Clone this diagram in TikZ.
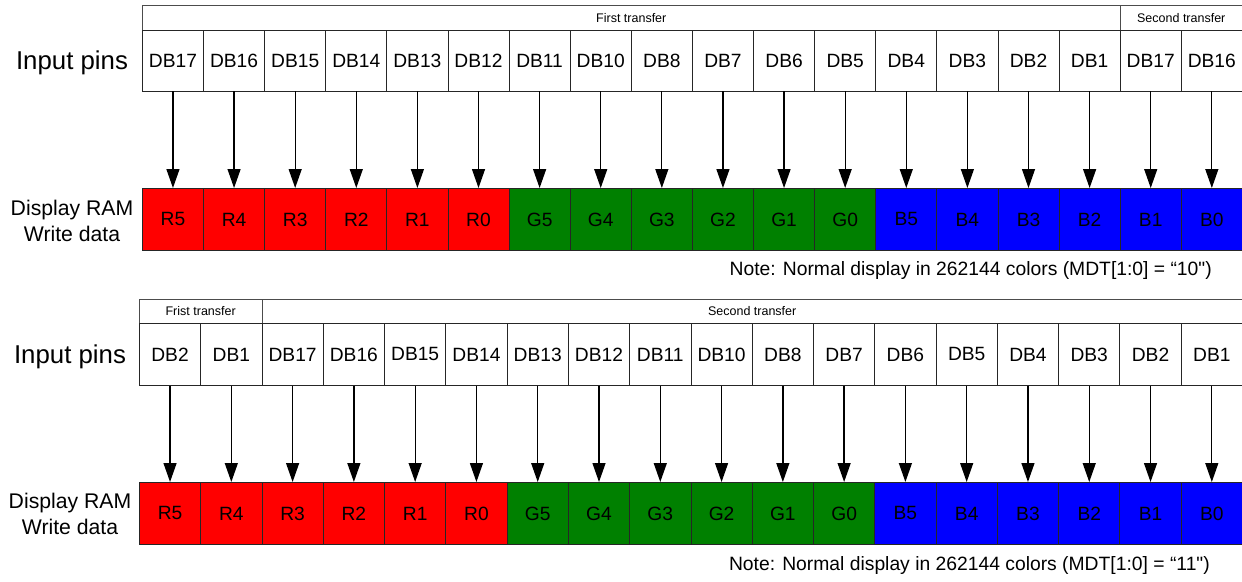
\documentclass[tikz,border=0pt]{standalone}
\usepackage{fontspec}
\setmainfont{Liberation Sans}
\usetikzlibrary{arrows.meta}
\definecolor{rr}{HTML}{FF0000}
\definecolor{gg}{HTML}{008000}
\definecolor{bb}{HTML}{0000FF}
\begin{document}
\begin{tikzpicture}[x=1pt,y=-1pt,
  cellbox/.style={draw=black!85, line width=0.8pt, inner sep=0pt, anchor=north west, font=\fontsize{19.2}{19.2}\selectfont},
  hdrbox/.style={draw=black!70, line width=0.8pt, inner sep=0pt, anchor=north west, font=\fontsize{12.5}{12.5}\selectfont},
  biglabel/.style={font=\fontsize{25.8}{25.8}\selectfont, inner sep=0pt},
  ramlabel/.style={font=\fontsize{21.2}{26}\selectfont, align=center, inner sep=0pt},
  notetext/.style={font=\fontsize{19.3}{19.3}\selectfont, anchor=east, inner sep=0pt},
  arr/.style={line width=1.3pt, -{Triangle[width=13pt,length=19pt]}}]
\useasboundingbox (0,0) rectangle (1242,581);

% ---------- top section ----------
\def\xa{142}\def\wa{61.11}
\node[hdrbox, minimum width=16*\wa pt, minimum height=25pt] (h1a) at (\xa,5) {First transfer};
\node[hdrbox, minimum width=2*\wa pt, minimum height=25pt] (h1b) at (\xa+16*\wa,5) {Second transfer};
\foreach \t [count=\i] in {DB17,DB16,DB15,DB14,DB13,DB12,DB11,DB10,DB8,DB7,DB6,DB5,DB4,DB3,DB2,DB1,DB17,DB16}{
  \node[cellbox, fill=white, minimum width=\wa pt, minimum height=60.5pt] (ta\i) at ({\xa+(\i-1)*\wa},30) {\t};
}
\foreach \t/\c [count=\i] in {R5/rr,R4/rr,R3/rr,R2/rr,R1/rr,R0/rr,G5/gg,G4/gg,G3/gg,G2/gg,G1/gg,G0/gg,B5/bb,B4/bb,B3/bb,B2/bb,B1/bb,B0/bb}{
  \node[cellbox, fill=\c, minimum width=\wa pt, minimum height=62pt] (ca\i) at ({\xa+(\i-1)*\wa},188) {\t};
}
\foreach \i in {1,...,18}{ \draw[arr] (ta\i.south) -- (ca\i.north); }
\node[biglabel] (ipa) at (72,63) {Input pins};
\node[ramlabel] (rama) at (72,221) {Display RAM\\Write data};
\node[notetext] (notea) at (1212,271) {Note: Normal display in 262144 colors (MDT[1:0] = “10\textquotedbl)};

% ---------- bottom section ----------
\def\xb{139}\def\wb{61.28}
\node[hdrbox, minimum width=2*\wb pt, minimum height=24pt] (h2a) at (\xb,299) {Frist transfer};
\node[hdrbox, minimum width=16*\wb pt, minimum height=24pt] (h2b) at (\xb+2*\wb,299) {Second transfer};
\foreach \t [count=\i] in {DB2,DB1,DB17,DB16,DB15,DB14,DB13,DB12,DB11,DB10,DB8,DB7,DB6,DB5,DB4,DB3,DB2,DB1}{
  \node[cellbox, fill=white, minimum width=\wb pt, minimum height=62pt] (tb\i) at ({\xb+(\i-1)*\wb},323) {\t};
}
\foreach \t/\c [count=\i] in {R5/rr,R4/rr,R3/rr,R2/rr,R1/rr,R0/rr,G5/gg,G4/gg,G3/gg,G2/gg,G1/gg,G0/gg,B5/bb,B4/bb,B3/bb,B2/bb,B1/bb,B0/bb}{
  \node[cellbox, fill=\c, minimum width=\wb pt, minimum height=62pt] (cb\i) at ({\xb+(\i-1)*\wb},482) {\t};
}
\foreach \i in {1,...,18}{ \draw[arr] (tb\i.south) -- (cb\i.north); }
\node[biglabel] (ipb) at (70,357) {Input pins};
\node[ramlabel] (ramb) at (70,514) {Display RAM\\Write data};
\node[notetext] (noteb) at (1210,566) {Note: Normal display in 262144 colors (MDT[1:0] = “11\textquotedbl)};
\end{tikzpicture}
\end{document}
